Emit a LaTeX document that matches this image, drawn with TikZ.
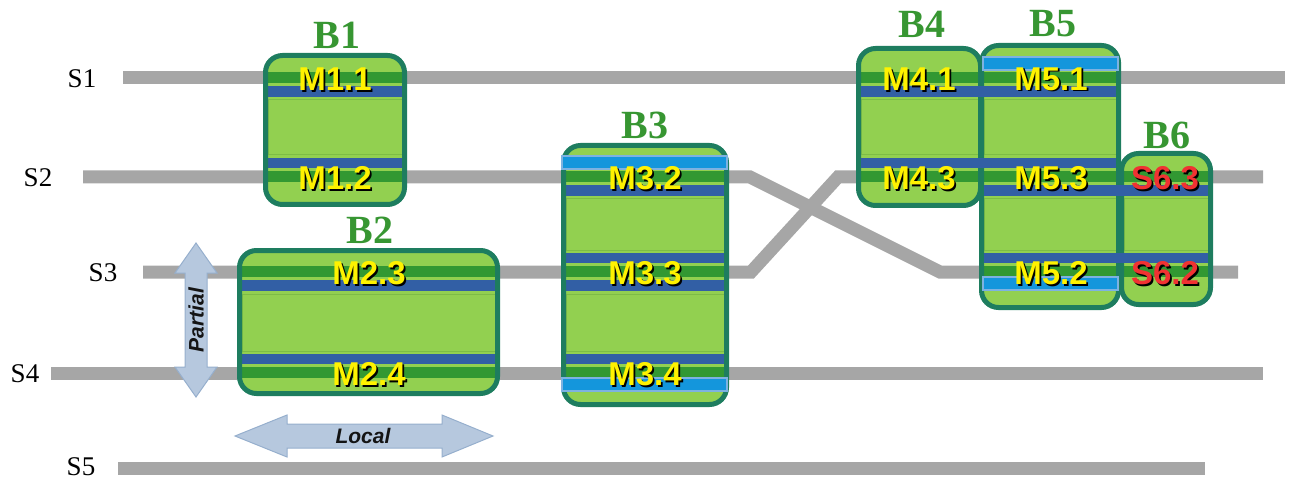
\documentclass[tikz,border=0pt]{standalone}
\usepackage{fontspec}
\setmainfont{Liberation Serif}
\setsansfont{Liberation Sans}
\definecolor{railc}{RGB}{166,166,166}
\definecolor{blkfill}{RGB}{146,208,80}
\definecolor{blkedge}{RGB}{30,125,95}
\definecolor{bgreen}{RGB}{50,152,50}
\definecolor{bblue}{RGB}{50,95,165}
\definecolor{bcyan}{RGB}{20,150,220}
\definecolor{bcyanedge}{RGB}{125,178,225}
\definecolor{innerc}{RGB}{125,188,70}
\definecolor{tgreen}{RGB}{55,150,50}
\definecolor{tred}{RGB}{240,50,50}
\definecolor{arrfill}{RGB}{182,200,222}
\definecolor{arredge}{RGB}{150,175,205}
\tikzset{
  rail/.style={draw=railc, line width=13pt},
  blockfill/.style={fill=blkfill, rounded corners=17pt},
  blockedge/.style={draw=blkedge, line width=5pt, rounded corners=17pt},
  cyanband/.style={fill=bcyan, draw=bcyanedge, line width=1.3pt},
  innerbox/.style={draw=innerc, line width=1pt},
  blabel/.style={text=tgreen, font=\fontsize{40}{42}\selectfont\bfseries, inner sep=0pt},
  slabel/.style={text=black, font=\fontsize{27}{29}\selectfont, inner sep=0pt},
  mtxt/.style={font=\fontsize{33}{35}\selectfont\sffamily\bfseries, inner sep=0pt},
  mshadow/.style={mtxt, text=black},
  dirarrow/.style={fill=arrfill, draw=arredge, line width=1pt},
  arrtxt/.style={font=\fontsize{21}{23}\selectfont\sffamily\bfseries\itshape, text={rgb,255:red,20;green,20;blue,20}, inner sep=0pt}
}
\newcommand\gband[3]{\fill[bgreen] (#1,#3-6) rectangle (#2,#3+5);}
\newcommand\bbelow[3]{\fill[bblue] (#1,#3+8) rectangle (#2,#3+19);}
\newcommand\babove[3]{\fill[bblue] (#1,#3-19) rectangle (#2,#3-9);}
\newcommand\cabove[3]{\filldraw[cyanband] (#1,#3-21) rectangle (#2,#3-8);}
\newcommand\cbelow[3]{\filldraw[cyanband] (#1,#3+5) rectangle (#2,#3+18);}
\newcommand\ibox[4]{\draw[innerbox] (#1,#3) rectangle (#2,#4);}
\newcommand\mlab[5]{%
  \node[mshadow] (#1s) at (#2+1.8,#3+1.8) {#4};
  \node[mtxt, text=#5] (#1) at (#2,#3) {#4};}
\begin{document}
\begin{tikzpicture}[x=1pt,y=-1pt]
\useasboundingbox (0,0) rectangle (1290,481);
% rails
\coordinate (s1a) at (123,78);  \coordinate (s1b) at (1285,78);
\coordinate (s2a) at (83,177);  \coordinate (s2k) at (750,177);
\coordinate (s2m) at (940,272); \coordinate (s2b) at (1238,272);
\coordinate (s3a) at (143,272); \coordinate (s3k) at (751,272);
\coordinate (s3m) at (838,177); \coordinate (s3b) at (1263,177);
\coordinate (s4a) at (51,373);  \coordinate (s4b) at (1263,373);
\coordinate (s5a) at (118,468); \coordinate (s5b) at (1205,468);
\draw[rail] (s1a) -- (s1b);
\draw[rail] (s2a) -- (s2k) -- (s2m) -- (s2b);
\draw[rail] (s3a) -- (s3k) -- (s3m) -- (s3b);
\draw[rail] (s4a) -- (s4b);
\draw[rail] (s5a) -- (s5b);
\node[slabel] (S1) at (82,79) {S1};
\node[slabel] (S2) at (38,178) {S2};
\node[slabel] (S3) at (103,273) {S3};
\node[slabel] (S4) at (25,374) {S4};
\node[slabel] (S5) at (81,467) {S5};
% block fills
\path[blockfill] (265.5,55.5) rectangle (404.5,204.5);
\path[blockfill] (239.5,250.5) rectangle (497.5,393.5);
\path[blockfill] (563.5,145.5) rectangle (726.5,404.5);
\path[blockfill] (858.5,48.5) rectangle (980.5,205.5);
\path[blockfill] (981.5,45.5) rectangle (1118.5,307.5);
\path[blockfill] (1121.5,153.5) rectangle (1210.5,304.5);
% B1 bands
\gband{267}{403}{78} \bbelow{267}{403}{78}
\babove{267}{403}{177} \gband{267}{403}{177}
\ibox{268}{402}{100}{155}
% B2 bands
\gband{241}{496}{272} \bbelow{241}{496}{272}
\babove{241}{496}{373} \gband{241}{496}{373}
\ibox{242}{495}{294}{351}
% B3 bands
\gband{565}{725}{177} \bbelow{565}{725}{177}
\babove{565}{725}{272} \gband{565}{725}{272} \bbelow{565}{725}{272}
\babove{565}{725}{373} \gband{565}{725}{373}
\ibox{566}{724}{199}{250}
\ibox{566}{724}{294}{351}
% B4 bands
\gband{860}{979}{78} \bbelow{860}{979}{78}
\babove{860}{979}{177} \gband{860}{979}{177}
\ibox{861}{978}{100}{155}
% B5 bands
\gband{983}{1117}{78} \bbelow{983}{1117}{78}
\babove{983}{1117}{177} \gband{983}{1117}{177} \bbelow{983}{1117}{177}
\babove{983}{1117}{272} \gband{983}{1117}{272}
\ibox{984}{1116}{100}{155}
\ibox{984}{1116}{199}{250}
% B6 bands
\gband{1123}{1209}{177} \bbelow{1123}{1209}{177}
\babove{1123}{1209}{272} \gband{1123}{1209}{272}
\ibox{1124}{1208}{199}{250}
% block borders
\path[blockedge] (265.5,55.5) rectangle (404.5,204.5);
\path[blockedge] (239.5,250.5) rectangle (497.5,393.5);
\path[blockedge] (563.5,145.5) rectangle (726.5,404.5);
\path[blockedge] (858.5,48.5) rectangle (980.5,205.5);
\path[blockedge] (981.5,45.5) rectangle (1118.5,307.5);
\path[blockedge] (1121.5,153.5) rectangle (1210.5,304.5);
% joined bands across block boundaries
\bbelow{861}{1116}{78}
\babove{861}{1116}{177}
\bbelow{984}{1208}{177}
\babove{984}{1208}{272}
% cyan bands
\cabove{562}{727}{177}
\cbelow{562}{727}{373}
\cabove{983}{1118}{78}
\cbelow{983}{1118}{272}
% block titles
\node[blabel] (B1) at (337,35) {B1};
\node[blabel] (B2) at (370,230) {B2};
\node[blabel] (B3) at (645,125) {B3};
\node[blabel] (B4) at (922,24) {B4};
\node[blabel] (B5) at (1053,24) {B5};
\node[blabel] (B6) at (1167,135) {B6};
% band labels
\mlab{m11}{335}{79}{M1.1}{yellow}
\mlab{m12}{335}{178}{M1.2}{yellow}
\mlab{m23}{369}{273}{M2.3}{yellow}
\mlab{m24}{369}{374}{M2.4}{yellow}
\mlab{m32}{645}{178}{M3.2}{yellow}
\mlab{m33}{645}{273}{M3.3}{yellow}
\mlab{m34}{645}{374}{M3.4}{yellow}
\mlab{m41}{919}{79}{M4.1}{yellow}
\mlab{m43}{919}{178}{M4.3}{yellow}
\mlab{m51}{1051}{79}{M5.1}{yellow}
\mlab{m53}{1051}{178}{M5.3}{yellow}
\mlab{m52}{1051}{273}{M5.2}{yellow}
\mlab{s63}{1165}{178}{S6.3}{tred}
\mlab{s62}{1165}{273}{S6.2}{tred}
% scope arrows
\draw[dirarrow] (196,243) -- (217,273) -- (207,273) -- (207,367) -- (217,367)
  -- (196,397) -- (175,367) -- (185,367) -- (185,273) -- (175,273) -- cycle;
\node[arrtxt, rotate=90] (partial) at (196,320) {Partial};
\draw[dirarrow] (235,436) -- (287,415) -- (287,424) -- (442,424) -- (442,415)
  -- (493,436) -- (442,457) -- (442,448) -- (287,448) -- (287,457) -- cycle;
\node[arrtxt] (local) at (363,436) {Local};
\end{tikzpicture}
\end{document}
